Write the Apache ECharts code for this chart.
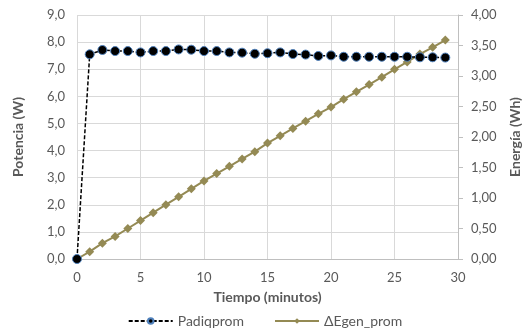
<!DOCTYPE html>
<html><head><meta charset="utf-8">
<script src="https://cdn.jsdelivr.net/npm/echarts@6/dist/echarts.min.js"></script>
<style>html,body{margin:0;padding:0;background:#fff}#c{width:530px;height:334px}</style>
</head><body><div id="c"></div>
<script>
const minutes = [0,1,2,3,4,5,6,7,8,9,10,11,12,13,14,15,16,17,18,19,20,21,22,23,24,25,26,27,28,29];
const padiqprom = [0,7.55,7.71,7.67,7.67,7.62,7.67,7.67,7.73,7.72,7.67,7.67,7.62,7.61,7.57,7.59,7.62,7.56,7.54,7.49,7.51,7.46,7.46,7.46,7.46,7.46,7.46,7.44,7.44,7.43];
const egenProm = [0,0.12,0.26,0.37,0.50,0.63,0.76,0.89,1.02,1.15,1.28,1.40,1.52,1.64,1.76,1.90,2.02,2.14,2.26,2.38,2.49,2.62,2.74,2.86,2.98,3.11,3.23,3.36,3.47,3.59];
const seriesNames = ['Padiqprom','\u0394Egen_prom'];
const axisTitles = {x:'Tiempo (minutos)', yLeft:'Potencia (W)', yRight:'Energía (Wh)'};

const FONT = 'Lato';
const txt = '#595959';
const chart = echarts.init(document.getElementById('c'));
chart.setOption({
  animation:false,
  textStyle:{fontFamily:FONT},
  grid:{left:77,right:63,top:15,bottom:75},
  legend:{
    bottom:1, left:'center', itemWidth:44, itemHeight:7, itemGap:30,
    textStyle:{fontFamily:FONT,fontSize:14,color:txt},
    data:seriesNames
  },
  xAxis:{
    type:'value', min:0, max:30, interval:5,
    name:axisTitles.x, nameLocation:'middle', nameGap:31,
    nameTextStyle:{fontFamily:FONT,fontSize:14,fontWeight:'bold',color:txt},
    axisLine:{show:true,lineStyle:{color:'#bfbfbf'}},
    axisTick:{show:false},
    axisLabel:{color:txt,fontSize:13,margin:12},
    splitLine:{show:true,lineStyle:{color:'#d9d9d9'}}
  },
  yAxis:[{
    type:'value', min:0, max:9, interval:1,
    name:axisTitles.yLeft, nameLocation:'middle', nameGap:52, nameRotate:90,
    nameTextStyle:{fontFamily:FONT,fontSize:14,fontWeight:'bold',color:txt},
    axisLine:{show:false}, axisTick:{show:false},
    axisLabel:{color:txt,fontSize:13,margin:12,formatter:v=>v.toFixed(1).replace('.',',')},
    splitLine:{show:true,lineStyle:{color:'#d9d9d9'}}
  },{
    type:'value', min:0, max:4, interval:0.5, position:'right',
    name:axisTitles.yRight, nameLocation:'middle', nameGap:50, nameRotate:90,
    nameTextStyle:{fontFamily:FONT,fontSize:14,fontWeight:'bold',color:txt},
    axisLine:{show:true,lineStyle:{color:'#bfbfbf'}},
    axisTick:{show:true,length:5,lineStyle:{color:'#bfbfbf'}},
    axisLabel:{color:txt,fontSize:13,margin:13,formatter:v=>v.toFixed(2).replace('.',',')},
    splitLine:{show:false}
  }],
  series:[{
    name:seriesNames[0], type:'line', yAxisIndex:0,
    data:minutes.map((m,i)=>[m,padiqprom[i]]),
    symbol:'circle', symbolSize:9,
    itemStyle:{color:'#000000',borderColor:'#4f81bd',borderWidth:1},
    lineStyle:{color:'#000000',width:1.5,type:[4,2]},
    z:3
  },{
    name:seriesNames[1], type:'line', yAxisIndex:1,
    data:minutes.map((m,i)=>[m,egenProm[i]]),
    symbol:'diamond', symbolSize:9,
    itemStyle:{color:'#948a54'},
    lineStyle:{color:'#948a54',width:2},
    z:2
  }]
});
</script></body></html>
